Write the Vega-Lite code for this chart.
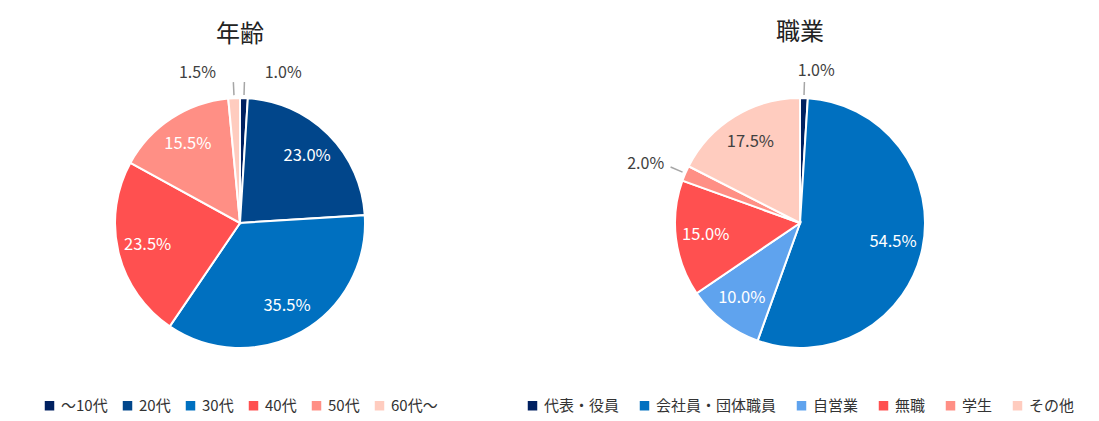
{
  "$schema": "https://vega.github.io/schema/vega-lite/v6.json",
  "background": "white",
  "padding": {"left": 5, "right": 5, "top": 21, "bottom": 5},
  "datasets": {
    "age": [
      {"n": 1, "cat": "～10代", "pct": 0.010},
      {"n": 2, "cat": "20代", "pct": 0.230},
      {"n": 3, "cat": "30代", "pct": 0.355},
      {"n": 4, "cat": "40代", "pct": 0.235},
      {"n": 5, "cat": "50代", "pct": 0.155},
      {"n": 6, "cat": "60代～", "pct": 0.015}
    ],
    "job": [
      {"n": 1, "cat": "代表・役員", "pct": 0.010},
      {"n": 2, "cat": "会社員・団体職員", "pct": 0.545},
      {"n": 3, "cat": "自営業", "pct": 0.100},
      {"n": 4, "cat": "無職", "pct": 0.150},
      {"n": 5, "cat": "学生", "pct": 0.020},
      {"n": 6, "cat": "その他", "pct": 0.175}
    ]
  },
  "spacing": 50,
  "hconcat": [
    {
      "title": "年齢",
      "width": 470,
      "height": 290,
      "data": {"name": "age"},
      "encoding": {
        "theta": {"field": "pct", "type": "quantitative", "stack": true},
        "order": {"field": "n", "type": "quantitative"}
      },
      "layer": [
        {
          "mark": {"type": "arc", "outerRadius": 125, "stroke": "white", "strokeWidth": 2},
          "encoding": {
            "color": {
              "field": "cat", "type": "nominal",
              "scale": {
                "domain": ["～10代", "20代", "30代", "40代", "50代", "60代～"],
                "range": ["#002060", "#01468b", "#0070c0", "#ff5050", "#ff8f85", "#ffccbf"]
              },
              "legend": {"columnPadding": 12}
            }
          }
        },
        {
          "mark": {"type": "arc", "radius": 141, "radius2": 128, "padAngle": 0.3, "fillOpacity": 0, "stroke": "#a6a6a6", "strokeWidth": 1.5},
          "encoding": {
            "detail": {"field": "cat"},
            "strokeOpacity": {"condition": {"test": "datum.pct < 0.05", "value": 1}, "value": 0}
          }
        },
        {
          "mark": {"type": "text", "radius": 95, "font": "Noto Sans CJK JP", "fontSize": 16.5},
          "encoding": {
            "detail": {"field": "cat"},
            "text": {"condition": {"test": "datum.pct >= 0.05", "field": "pct", "type": "quantitative", "format": ".1%"}, "value": ""},
            "color": {"value": "white"}
          }
        },
        {
          "mark": {"type": "text", "radius": 150, "align": "left", "dx": 20, "font": "Noto Sans CJK JP", "fontSize": 16, "color": "#404040"},
          "encoding": {
            "detail": {"field": "cat"},
            "text": {"condition": {"test": "datum.n == 1", "field": "pct", "type": "quantitative", "format": ".1%"}, "value": ""}
          }
        },
        {
          "mark": {"type": "text", "radius": 150, "align": "right", "dx": -17, "font": "Noto Sans CJK JP", "fontSize": 16, "color": "#404040"},
          "encoding": {
            "detail": {"field": "cat"},
            "text": {"condition": {"test": "datum.pct < 0.05 && datum.n > 1", "field": "pct", "type": "quantitative", "format": ".1%"}, "value": ""}
          }
        }
      ]
    },
    {
      "title": "職業",
      "width": 470,
      "height": 290,
      "data": {"name": "job"},
      "encoding": {
        "theta": {"field": "pct", "type": "quantitative", "stack": true},
        "order": {"field": "n", "type": "quantitative"}
      },
      "layer": [
        {
          "mark": {"type": "arc", "outerRadius": 125, "stroke": "white", "strokeWidth": 2},
          "encoding": {
            "color": {
              "field": "cat", "type": "nominal",
              "scale": {
                "domain": ["代表・役員", "会社員・団体職員", "自営業", "無職", "学生", "その他"],
                "range": ["#002060", "#0070c0", "#5fa3ee", "#ff5050", "#ff8f85", "#ffccbf"]
              },
              "legend": {"columnPadding": 17}
            }
          }
        },
        {
          "mark": {"type": "arc", "radius": 141, "radius2": 128, "padAngle": 0.3, "fillOpacity": 0, "stroke": "#a6a6a6", "strokeWidth": 1.5},
          "encoding": {
            "detail": {"field": "cat"},
            "strokeOpacity": {"condition": {"test": "datum.pct < 0.05", "value": 1}, "value": 0}
          }
        },
        {
          "mark": {"type": "text", "radius": 95, "font": "Noto Sans CJK JP", "fontSize": 16.5},
          "encoding": {
            "detail": {"field": "cat"},
            "text": {"condition": {"test": "datum.pct >= 0.05", "field": "pct", "type": "quantitative", "format": ".1%"}, "value": ""},
            "color": {"condition": {"test": "datum.cat === 'その他'", "value": "#404040"}, "value": "white"}
          }
        },
        {
          "mark": {"type": "text", "radius": 152, "align": "left", "dx": -7, "font": "Noto Sans CJK JP", "fontSize": 16, "color": "#404040"},
          "encoding": {
            "detail": {"field": "cat"},
            "text": {"condition": {"test": "datum.n == 1", "field": "pct", "type": "quantitative", "format": ".1%"}, "value": ""}
          }
        },
        {
          "mark": {"type": "text", "radius": 148, "align": "right", "dx": 0, "font": "Noto Sans CJK JP", "fontSize": 16, "color": "#404040"},
          "encoding": {
            "detail": {"field": "cat"},
            "text": {"condition": {"test": "datum.pct < 0.05 && datum.n > 1", "field": "pct", "type": "quantitative", "format": ".1%"}, "value": ""}
          }
        }
      ]
    }
  ],
  "resolve": {"scale": {"color": "independent", "theta": "independent"}, "legend": {"color": "independent"}},
  "config": {
    "view": {"stroke": null},
    "title": {"font": "Noto Sans CJK JP", "fontSize": 24, "fontWeight": "normal", "color": "#222222", "offset": 18},
    "legend": {
      "orient": "bottom",
      "direction": "horizontal",
      "title": null,
      "labelFont": "Noto Sans CJK JP",
      "labelFontSize": 15,
      "labelColor": "#333333",
      "symbolType": "square",
      "symbolSize": 90,
      "symbolStrokeWidth": 0,
      "offset": 30,
      "layout": {"bottom": {"anchor": "middle"}}
    }
  }
}
